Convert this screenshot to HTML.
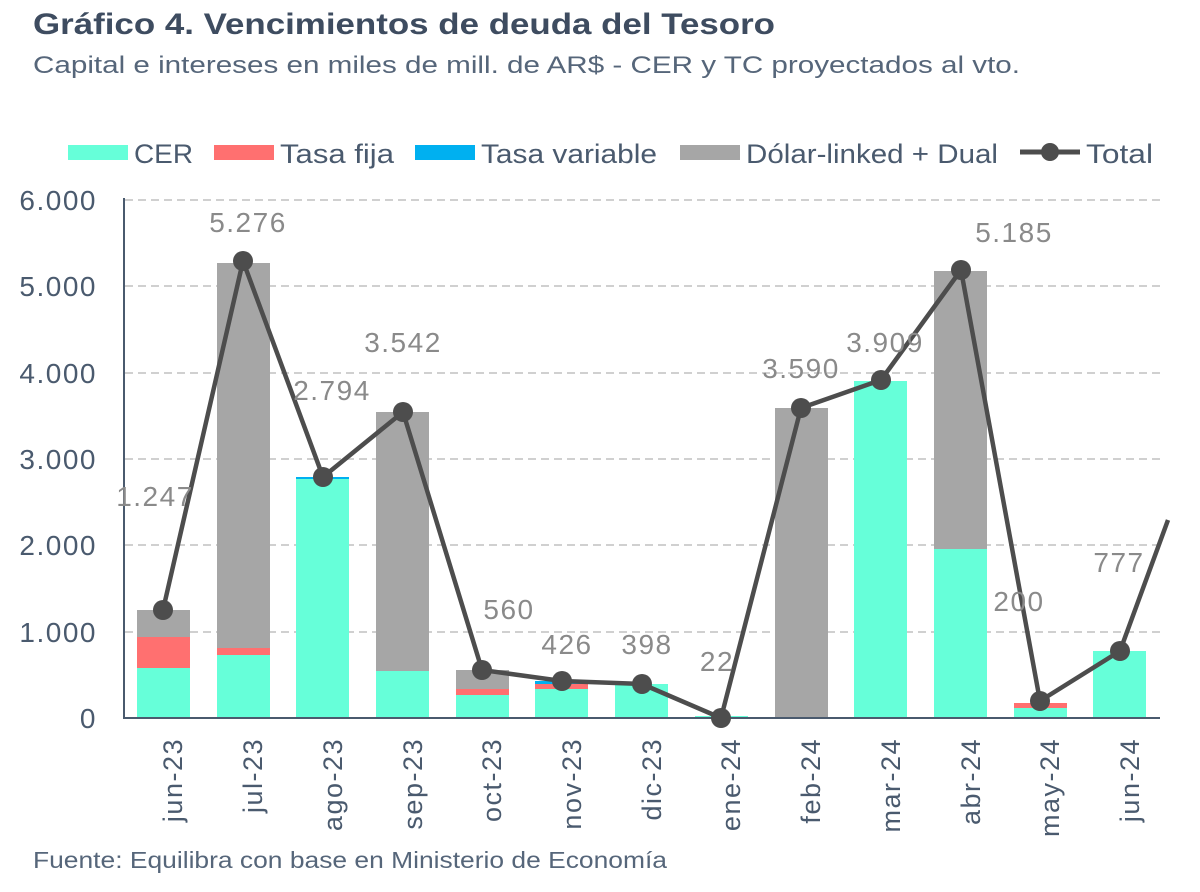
<!DOCTYPE html>
<html><head><meta charset="utf-8"><style>
body{margin:0;background:#fff;}
svg{display:block;font-family:"Liberation Sans",sans-serif;}
</style></head><body>
<svg width="1200" height="892" viewBox="0 0 1200 892">
<text x="33" y="34" font-size="30" font-weight="bold" fill="#3e4c60" textLength="742" lengthAdjust="spacingAndGlyphs">Gráfico 4. Vencimientos de deuda del Tesoro</text>
<text x="33" y="73" font-size="24" fill="#56667a" textLength="987" lengthAdjust="spacingAndGlyphs">Capital e intereses en miles de mill. de AR$ - CER y TC proyectados al vto.</text>
<g font-size="27" fill="#4a5a6e">
<rect x="68" y="145" width="60" height="15" fill="#66ffd9"/><text x="134" y="163" textLength="59" lengthAdjust="spacingAndGlyphs">CER</text>
<rect x="214" y="145" width="60" height="15" fill="#ff7070"/><text x="280" y="163" textLength="114" lengthAdjust="spacingAndGlyphs">Tasa fija</text>
<rect x="415" y="145" width="60" height="15" fill="#00b0f0"/><text x="481" y="163" textLength="176" lengthAdjust="spacingAndGlyphs">Tasa variable</text>
<rect x="680" y="145" width="60" height="15" fill="#a6a6a6"/><text x="746" y="163" textLength="252" lengthAdjust="spacingAndGlyphs">Dólar-linked + Dual</text>
<line x1="1020" y1="152" x2="1080" y2="152" stroke="#4d4d4d" stroke-width="5"/><circle cx="1050" cy="152" r="9" fill="#4d4d4d"/><text x="1086" y="163" textLength="67" lengthAdjust="spacingAndGlyphs">Total</text>
</g>
<g stroke="#d0d0d0" stroke-width="2" stroke-dasharray="8,5">
<line x1="125" y1="200" x2="1160" y2="200"/><line x1="125" y1="286" x2="1160" y2="286"/><line x1="125" y1="373" x2="1160" y2="373"/><line x1="125" y1="459" x2="1160" y2="459"/><line x1="125" y1="545" x2="1160" y2="545"/><line x1="125" y1="632" x2="1160" y2="632"/>
</g>
<g font-size="28" fill="#4a5a6e" text-anchor="end" letter-spacing="1.5">
<text x="97" y="210">6.000</text><text x="97" y="296">5.000</text><text x="97" y="383">4.000</text><text x="97" y="469">3.000</text><text x="97" y="555">2.000</text><text x="97" y="642">1.000</text><text x="97" y="728">0</text>
</g>
<g>
<rect x="137" y="668" width="53" height="50" fill="#66ffd9"/><rect x="137" y="637" width="53" height="31" fill="#ff7070"/><rect x="137" y="610" width="53" height="27" fill="#a6a6a6"/>
<rect x="217" y="655" width="53" height="63" fill="#66ffd9"/><rect x="217" y="648" width="53" height="7" fill="#ff7070"/><rect x="217" y="263" width="53" height="385" fill="#a6a6a6"/>
<rect x="296" y="479" width="53" height="239" fill="#66ffd9"/><rect x="296" y="477" width="53" height="2" fill="#00b0f0"/>
<rect x="376" y="671" width="53" height="47" fill="#66ffd9"/><rect x="376" y="412" width="53" height="259" fill="#a6a6a6"/>
<rect x="456" y="695" width="53" height="23" fill="#66ffd9"/><rect x="456" y="689" width="53" height="6" fill="#ff7070"/><rect x="456" y="670" width="53" height="19" fill="#a6a6a6"/>
<rect x="535" y="689" width="53" height="29" fill="#66ffd9"/><rect x="535" y="684" width="53" height="5" fill="#ff7070"/><rect x="535" y="681" width="53" height="3" fill="#00b0f0"/>
<rect x="615" y="684" width="53" height="34" fill="#66ffd9"/>
<rect x="695" y="716" width="53" height="2" fill="#66ffd9"/>
<rect x="775" y="408" width="53" height="310" fill="#a6a6a6"/>
<rect x="854" y="381" width="53" height="337" fill="#66ffd9"/>
<rect x="934" y="549" width="53" height="169" fill="#66ffd9"/><rect x="934" y="271" width="53" height="278" fill="#a6a6a6"/>
<rect x="1014" y="708" width="53" height="10" fill="#66ffd9"/><rect x="1014" y="703" width="53" height="5" fill="#ff7070"/>
<rect x="1093" y="651" width="53" height="67" fill="#66ffd9"/>
</g>
<line x1="124" y1="198" x2="124" y2="718" stroke="#4a5a6e" stroke-width="2"/>
<line x1="123" y1="718" x2="1160" y2="718" stroke="#4a5a6e" stroke-width="2"/>
<g>
<polyline points="163,610 243,261 323,477 403,412 482,670 562,681 642,684 721,718 801,408 881,380 961,270 1040,701 1120,651 1168,520" fill="none" stroke="#4d4d4d" stroke-width="4.5"/>
<g fill="#4d4d4d">
<circle cx="163" cy="610" r="10"/><circle cx="243" cy="261" r="10"/><circle cx="323" cy="477" r="10"/><circle cx="403" cy="412" r="10"/><circle cx="482" cy="670" r="10"/><circle cx="562" cy="681" r="10"/><circle cx="642" cy="684" r="10"/><circle cx="721" cy="718" r="10"/><circle cx="801" cy="408" r="10"/><circle cx="881" cy="380" r="10"/><circle cx="961" cy="270" r="10"/><circle cx="1040" cy="701" r="10"/><circle cx="1120" cy="651" r="10"/>
</g>
</g>
<g font-size="28" fill="#8a8a8a" text-anchor="middle" letter-spacing="1.5">
<text x="155" y="506">1.247</text><text x="248" y="232">5.276</text><text x="332" y="400">2.794</text><text x="403" y="352">3.542</text><text x="509" y="619">560</text><text x="567" y="654">426</text><text x="647" y="654">398</text><text x="717" y="671">22</text><text x="801" y="378">3.590</text><text x="885" y="352">3.909</text><text x="1014" y="242">5.185</text><text x="1019" y="611">200</text><text x="1119" y="572">777</text>
</g>
<g font-size="27" fill="#4a5a6e" text-anchor="end" letter-spacing="1.5">
<text transform="translate(182,738) rotate(-90)">jun-23</text>
<text transform="translate(262,738) rotate(-90)">jul-23</text>
<text transform="translate(342,738) rotate(-90)">ago-23</text>
<text transform="translate(422,738) rotate(-90)">sep-23</text>
<text transform="translate(501,738) rotate(-90)">oct-23</text>
<text transform="translate(581,738) rotate(-90)">nov-23</text>
<text transform="translate(661,738) rotate(-90)">dic-23</text>
<text transform="translate(740,738) rotate(-90)">ene-24</text>
<text transform="translate(820,738) rotate(-90)">feb-24</text>
<text transform="translate(900,738) rotate(-90)">mar-24</text>
<text transform="translate(980,738) rotate(-90)">abr-24</text>
<text transform="translate(1059,738) rotate(-90)">may-24</text>
<text transform="translate(1139,738) rotate(-90)">jun-24</text>
</g>
<text x="33" y="868" font-size="23" fill="#56667a" textLength="634" lengthAdjust="spacingAndGlyphs">Fuente: Equilibra con base en Ministerio de Economía</text>
</svg>
</body></html>
